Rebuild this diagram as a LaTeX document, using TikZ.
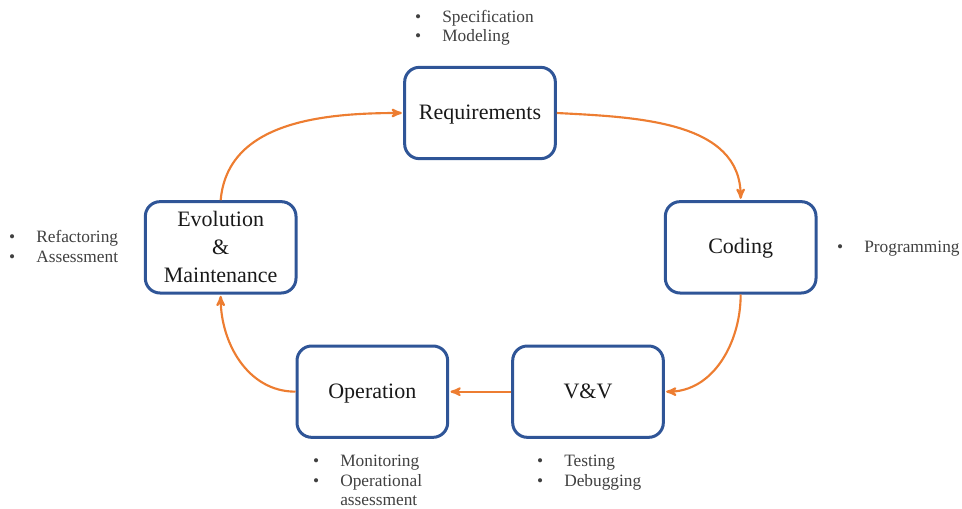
\documentclass[tikz,border=0pt]{standalone}
\usepackage{fontspec}
\setmainfont{Liberation Serif}
\usepackage{tikz}
\usetikzlibrary{arrows,positioning}

\definecolor{boxblue}{HTML}{2F5597}
\definecolor{flowor}{HTML}{ED7D31}
\definecolor{itemgray}{HTML}{404040}

\newcommand{\bitem}{\makebox[20.3pt][l]{\textbullet}}

\begin{document}
\begin{tikzpicture}[>=stealth',shorten >=1pt,
  phase/.style={rectangle,rounded corners=11pt,draw=boxblue,line width=2.25pt,
    minimum width=113pt,minimum height=68.5pt,align=center,
    font=\fontsize{16.5}{21}\selectfont,text=black!90},
  single/.style={text height=11.5pt,text depth=1.5pt},
  flow/.style={->,draw=flowor,line width=1.6pt},
  items/.style={anchor=base west,inner sep=0pt,text=itemgray,
    font=\fontsize{13}{14.4}\selectfont}]

  \useasboundingbox (0,0) rectangle (721.5pt,-381.75pt);

  \node[phase,single] (req) at (360pt,-84.75pt) {Requirements};
  \node[phase,single] (cod) [below right=30pt and 80.25pt of req] {Coding};
  \node[phase,single] (vv) [below left=37.5pt and -0.75pt of cod] {V\&V};
  \node[phase,single] (op) [left=46.5pt of vv] {Operation};
  \node[phase] (evo) [above left=37.5pt and -1.5pt of op] {Evolution\\\&\\Maintenance};

  \draw[flow] (req.east) to[out=-3,in=90] (cod.north);
  \draw[flow] (cod.south) to[out=-90,in=0] (vv.east);
  \draw[flow] (vv.west) -- (op.east);
  \draw[flow] (op.west) to[out=180,in=-90] (evo.south);
  \draw[flow] (evo.north) to[out=85,in=180] (req.west);

  % activity lists
  \node[items] (reqlist) at (311.2pt,-16.8pt)
    {\begin{tabular}[t]{@{}l@{}}\bitem Specification\\ \bitem Modeling\end{tabular}};
  \node[items] (codlist) at (627.7pt,-189.5pt)
    {\begin{tabular}[t]{@{}l@{}}\bitem Programming\end{tabular}};
  \node[items] (vvlist) at (402.7pt,-350.2pt)
    {\begin{tabular}[t]{@{}l@{}}\bitem Testing\\ \bitem Debugging\end{tabular}};
  \node[items] (oplist) at (234.7pt,-350.2pt)
    {\begin{tabular}[t]{@{}l@{}}\bitem Monitoring\\ \bitem Operational\\ \hspace*{20.3pt}assessment\end{tabular}};
  \node[items] (evolist) at (6.7pt,-182.2pt)
    {\begin{tabular}[t]{@{}l@{}}\bitem Refactoring\\ \bitem Assessment\end{tabular}};

\end{tikzpicture}
\end{document}
